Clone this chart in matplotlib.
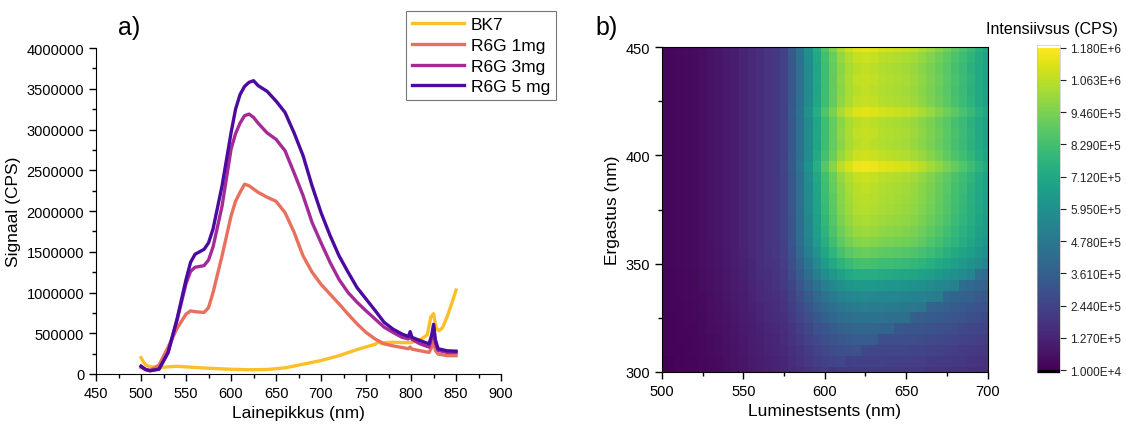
import numpy as np
import matplotlib
matplotlib.use("Agg")
import matplotlib.pyplot as plt
from matplotlib.ticker import MultipleLocator

plt.rcParams['font.family'] = ['Liberation Sans', 'DejaVu Sans']

# a) emissioonispektrid (signaal tuhandetes CPS)
wl_r6g = [500, 505, 510, 520, 530, 540, 550, 555, 560, 570, 575, 580, 590, 600, 605, 610,
          615, 620, 625, 630, 640, 650, 660, 670, 680, 690, 700, 710, 720, 730, 740, 750,
          760, 770, 780, 790, 797, 799, 801, 810, 820, 823, 825, 827, 830, 840, 850]
r6g_5mg = [95, 55, 40, 60, 265, 675, 1160, 1370, 1470, 1530, 1610, 1780, 2310, 2960, 3250, 3430,
           3530, 3580, 3600, 3540, 3470, 3350, 3210, 2960, 2680, 2310, 1980, 1700, 1450, 1250, 1060, 920,
           780, 635, 550, 490, 460, 520, 450, 410, 370, 480, 610, 420, 310, 285, 280]
r6g_3mg = [95, 55, 40, 60, 260, 660, 1110, 1260, 1310, 1330, 1400, 1560, 2060, 2760, 2950, 3080,
           3170, 3190, 3150, 3080, 2960, 2880, 2740, 2470, 2190, 1860, 1610, 1370, 1160, 1000, 880, 775,
           675, 575, 510, 450, 430, 470, 425, 370, 330, 450, 575, 380, 290, 265, 265]
r6g_1mg = [80, 55, 45, 110, 330, 560, 735, 775, 765, 755, 815, 1000, 1450, 1940, 2120, 2230,
           2330, 2310, 2270, 2230, 2170, 2120, 1980, 1740, 1450, 1250, 1100, 980, 860, 735, 615, 510,
           430, 370, 345, 325, 310, 330, 305, 285, 265, 330, 430, 290, 245, 225, 225]
wl_bk7 = [500, 503, 506, 510, 520, 540, 560, 580, 600, 620, 640, 660, 680, 700, 720, 740, 760,
          765, 767, 770, 780, 790, 800, 810, 818, 822, 825, 828, 831, 835, 840, 845, 850]
bk7 = [200, 140, 105, 90, 80, 95, 80, 68, 58, 52, 55, 75, 120, 165, 225, 300, 365,
       400, 370, 385, 390, 385, 385, 420, 480, 700, 740, 560, 530, 570, 700, 860, 1030]

# b) ergastus-emissioon kaart
em = np.arange(500, 701, 5)
ex = np.arange(300, 451, 5)
em_floor = [0.3, 0.3, 0.35, 0.4, 0.45, 0.55, 0.65, 0.75, 0.9, 1.05, 1.25, 1.45, 1.65, 1.85,
            2.0, 2.15, 2.25, 2.3, 2.3, 2.3, 2.3, 2.3, 2.3, 2.3, 2.3, 2.3, 2.3, 2.3, 2.3, 2.3,
            2.3, 2.3, 2.3, 2.25, 2.25, 2.25, 2.2, 2.2, 2.2, 2.2, 2.2]
em_peak = [0, 0, 0, 0, 0, 0, 0, 0, 0, 0, 0, 0, 0, 0, 0, 0.03, 0.12, 0.25, 0.4, 0.55, 0.68,
           0.78, 0.87, 0.93, 0.97, 0.98, 0.97, 0.95, 0.94, 0.93, 0.92, 0.9, 0.87, 0.84, 0.8,
           0.76, 0.72, 0.68, 0.63, 0.58, 0.53]
ex_floor = [0.6, 0.62, 0.65, 0.68, 0.72, 0.76, 0.8, 0.84, 0.88, 0.92, 0.95, 0.97, 1.0, 1.0,
            1.0, 1.0, 1.0, 1.0, 1.0, 1.0, 1.0, 1.0, 1.0, 1.0, 1.0, 1.0, 1.0, 1.0, 1.0, 1.0, 1.0]
ex_gain = [0.12, 0.15, 0.18, 0.22, 0.26, 0.31, 0.36, 0.42, 0.5, 0.6, 0.7, 0.78, 0.84, 0.88,
           0.91, 0.93, 0.94, 0.95, 0.97, 1.05, 0.98, 0.95, 0.96, 0.95, 1.02, 0.96, 0.95, 0.96,
           0.95, 0.97, 1.03]
cbar_ticks = [1.0e4, 1.27e5, 2.44e5, 3.61e5, 4.78e5, 5.95e5, 7.12e5, 8.29e5, 9.46e5, 1.063e6, 1.18e6]

fig = plt.figure(figsize=(11.26, 4.27), dpi=100)

# ---- a) ----
ax = fig.add_axes([0.0853, 0.1218, 0.3597, 0.7632])
ax.plot(wl_bk7, np.array(bk7) * 1000, color='#fbbf2a', lw=2.4, label='BK7')
ax.plot(wl_r6g, np.array(r6g_1mg) * 1000, color='#e8705f', lw=2.4, label='R6G 1mg')
ax.plot(wl_r6g, np.array(r6g_3mg) * 1000, color='#a42a98', lw=2.4, label='R6G 3mg')
ax.plot(wl_r6g, np.array(r6g_5mg) * 1000, color='#4b0aa0', lw=2.4, label='R6G 5 mg')
ax.set_xlim(450, 900)
ax.set_ylim(0, 4000000)
ax.xaxis.set_major_locator(MultipleLocator(50))
ax.xaxis.set_minor_locator(MultipleLocator(25))
ax.yaxis.set_major_locator(MultipleLocator(500000))
ax.yaxis.set_minor_locator(MultipleLocator(250000))
ax.ticklabel_format(axis='y', style='plain', useOffset=False)
ax.spines['top'].set_visible(False)
ax.spines['right'].set_visible(False)
ax.tick_params(which='major', length=5, width=1, labelsize=10.5, direction='out')
ax.tick_params(which='minor', length=3, width=1, direction='out')
ax.set_xlabel('Lainepikkus (nm)', fontsize=12.5)
ax.set_ylabel('Signaal (CPS)', fontsize=12.5)
leg = ax.legend(loc='upper right', bbox_to_anchor=(0.494, 0.972), bbox_transform=fig.transFigure,
                fontsize=12.5, frameon=True, fancybox=False, handlelength=3.0,
                borderaxespad=0, borderpad=0.35, labelspacing=0.32, handletextpad=0.4)
leg.get_frame().set_edgecolor('#555555')
leg.get_frame().set_linewidth(0.8)
fig.text(0.105, 0.935, 'a)', fontsize=18, va='center')

# ---- b) ----
Z = np.outer(ex_floor, em_floor) * 1e5 + np.outer(ex_gain, em_peak) * 9e5
EM, EX = np.meshgrid(em, ex)
Z = np.where(EM > 2 * EX, Z * 0.85, Z)

cmap = plt.get_cmap('viridis').with_extremes(over='white', under='black')
ax2 = fig.add_axes([0.588, 0.1265, 0.289, 0.761])
mesh = ax2.pcolormesh(em, ex, Z, cmap=cmap, vmin=1.0e4, vmax=1.18e6, shading='nearest')
ax2.set_xlim(500, 700)
ax2.set_ylim(300, 450)
ax2.xaxis.set_major_locator(MultipleLocator(50))
ax2.xaxis.set_minor_locator(MultipleLocator(25))
ax2.yaxis.set_major_locator(MultipleLocator(50))
ax2.yaxis.set_minor_locator(MultipleLocator(25))
ax2.tick_params(which='major', length=5, width=1, labelsize=10.5, direction='out')
ax2.tick_params(which='minor', length=3, width=1, direction='out')
for s in ax2.spines.values():
    s.set_linewidth(0.8)
ax2.set_xlabel('Luminestsents (nm)', fontsize=12.5)
ax2.set_ylabel('Ergastus (nm)', fontsize=12.5)
fig.text(0.529, 0.935, 'b)', fontsize=18, va='center')

cax = fig.add_axes([0.921, 0.125, 0.0205, 0.767])
cb = fig.colorbar(mesh, cax=cax, extend='both', extendrect=True, extendfrac=0.008)
cb.outline.set_linewidth(0.4)
cb.outline.set_edgecolor('#bbbbbb')
cb.set_ticks(cbar_ticks)


def sci_lbl(v):
    m, e = f"{v:.3E}".split('E')
    return f"{m}E+{int(e)}"


cb.set_ticklabels([sci_lbl(v) for v in cbar_ticks])
cax.tick_params(length=4, width=0.8, labelsize=8.5, colors='#222222')
fig.text(0.934, 0.93, 'Intensiivsus (CPS)', fontsize=11.5, ha='center', va='center')

fig.savefig('out.png', dpi=100)
